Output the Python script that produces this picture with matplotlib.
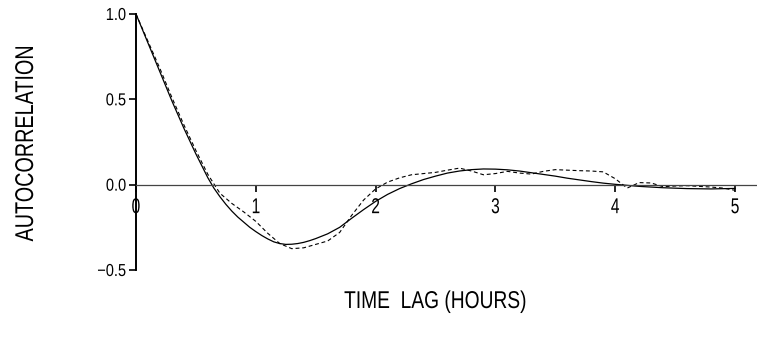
import matplotlib
matplotlib.use("Agg")
import matplotlib.pyplot as plt
from matplotlib.patheffects import AbstractPathEffect
from matplotlib.transforms import Affine2D

# ---- data ----
lag_solid = [0.0, 0.1, 0.2, 0.3, 0.4, 0.45, 0.5, 0.55, 0.6, 0.65, 0.7, 0.75, 0.8, 0.85,
             0.9, 0.95, 1.0, 1.05, 1.1, 1.15, 1.2, 1.25, 1.3, 1.35, 1.4, 1.45, 1.5, 1.6,
             1.7, 1.8, 1.9, 2.0, 2.1, 2.2, 2.3, 2.4, 2.5, 2.6, 2.7, 2.8, 2.9, 3.0, 3.1,
             3.2, 3.3, 3.4, 3.5, 3.6, 3.7, 3.8, 3.9, 4.0, 4.2, 4.4, 4.6, 4.8, 5.0]
acf_solid = [1.00, 0.83, 0.66, 0.49, 0.33, 0.255, 0.18, 0.11, 0.04, -0.02, -0.07, -0.115,
             -0.155, -0.19, -0.22, -0.25, -0.275, -0.298, -0.318, -0.335, -0.345, -0.35,
             -0.349, -0.345, -0.338, -0.328, -0.316, -0.288, -0.25, -0.197, -0.146,
             -0.098, -0.057, -0.023, 0.005, 0.03, 0.05, 0.068, 0.08, 0.088, 0.092, 0.091,
             0.087, 0.08, 0.07, 0.06, 0.05, 0.038, 0.028, 0.018, 0.009, 0.002, -0.01,
             -0.018, -0.023, -0.025, -0.022]

lag_dashed = [0.0, 0.1, 0.2, 0.3, 0.4, 0.5, 0.6, 0.7, 0.8, 0.9, 1.0, 1.1, 1.2, 1.3, 1.4,
              1.5, 1.6, 1.7, 1.8, 1.9, 2.0, 2.1, 2.2, 2.3, 2.4, 2.5, 2.6, 2.7, 2.8, 2.9,
              3.0, 3.1, 3.2, 3.3, 3.4, 3.5, 3.6, 3.7, 3.8, 3.9, 4.0, 4.1, 4.2, 4.3, 4.4,
              4.5, 4.6, 4.7, 4.8, 4.9, 5.0]
acf_dashed = [1.00, 0.84, 0.68, 0.51, 0.35, 0.20, 0.06, -0.05, -0.11, -0.16, -0.215,
              -0.285, -0.345, -0.375, -0.37, -0.35, -0.33, -0.28, -0.18, -0.09, -0.025,
              0.015, 0.04, 0.058, 0.065, 0.072, 0.085, 0.097, 0.08, 0.058, 0.065, 0.078,
              0.068, 0.062, 0.078, 0.088, 0.085, 0.082, 0.08, 0.075, 0.035, -0.02, 0.012,
              0.01, -0.012, -0.008, -0.006, -0.01, -0.014, -0.02, -0.033]

xticks = [0, 1, 2, 3, 4, 5]
yticks = [-0.5, 0.0, 0.5, 1.0]
ytick_labels = ["\u22120.5", "0.0", "0.5", "1.0"]
xlabel = "TIME  LAG (HOURS)"
ylabel = "AUTOCORRELATION"


class Squeeze(AbstractPathEffect):
    """Narrow the glyphs horizontally (condensed look), keeping the anchor fixed."""

    def __init__(self, sx, anchor="center"):
        super().__init__()
        self.sx = sx
        self.anchor = anchor

    def draw_path(self, renderer, gc, tpath, affine, rgbFace=None):
        ext = tpath.get_extents()
        if self.anchor == "right":
            cx = ext.x1
        elif self.anchor == "left":
            cx = ext.x0
        else:
            cx = 0.5 * (ext.x0 + ext.x1)
        t = Affine2D().translate(-cx, 0).scale(self.sx, 1.0).translate(cx, 0) + affine
        renderer.draw_path(gc, tpath, t, rgbFace)


FAMILY = ["Liberation Sans", "DejaVu Sans"]

fig = plt.figure(figsize=(7.57, 3.49), dpi=100)
ax = fig.add_axes([136 / 757, (349 - 270) / 349, 621 / 757, 256 / 349])
ax.set_xlim(0, 621 / 119.8)
ax.set_ylim(-0.5, 1.0)

ax.plot(lag_solid, acf_solid, color="black", lw=0.9, solid_joinstyle="round")
ax.plot(lag_dashed, acf_dashed, color="black", lw=0.8, linestyle=(0, (3.5, 2.5)))

for s in ["top", "right"]:
    ax.spines[s].set_visible(False)
ax.spines["left"].set_linewidth(1.4)
ax.spines["bottom"].set_position(("data", 0))
ax.spines["bottom"].set_linewidth(0.9)
ax.spines["bottom"].set_color("#444444")

ax.set_xticks(xticks)
ax.set_xticklabels([str(t) for t in xticks], family=FAMILY, fontsize=15.5)
ax.set_yticks(yticks)
ax.set_yticklabels(ytick_labels, family=FAMILY, fontsize=12.5)
ax.tick_params(axis="x", direction="out", length=4.7, width=1.2, pad=4.3)
ax.tick_params(axis="y", direction="out", length=5, width=1.2, pad=2)
for lab in ax.get_xticklabels():
    lab.set_path_effects([Squeeze(0.72, "center")])
for lab in ax.get_yticklabels():
    lab.set_path_effects([Squeeze(0.84, "right")])

ty = fig.text(26 / 757, 1 - 143 / 349, ylabel, rotation=90, ha="center",
              va="center", fontsize=18.5, family=FAMILY)
ty.set_path_effects([Squeeze(0.77, "center")])
tx = fig.text(435 / 757, 1 - 302 / 349, xlabel, ha="center", va="center",
              fontsize=17.5, family=FAMILY)
tx.set_path_effects([Squeeze(0.79, "center")])

fig.savefig("out.png", dpi=100)
